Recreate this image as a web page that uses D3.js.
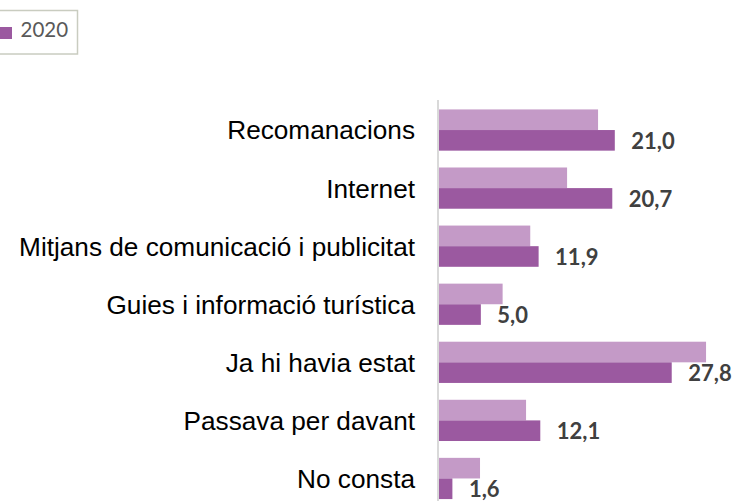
<!DOCTYPE html>
<html>
<head>
<meta charset="utf-8">
<script src="https://cdn.jsdelivr.net/npm/d3@7"></script>
<style>
  body { margin: 0; background: #fff; }
  svg { display: block; }
</style>
</head>
<body>
<svg id="chart" width="734" height="501"></svg>
<script>

const categories = ['Recomanacions', 'Internet', 'Mitjans de comunicació i publicitat',
  'Guies i informació turística', 'Ja hi havia estat', 'Passava per davant', 'No consta']
const series = ['anterior', '2020']
const valuesAnterior = [19.0, 15.3, 10.9, 7.6, 31.9, 10.4, 4.9]
const values2020 = [21.0, 20.7, 11.9, 5.0, 27.8, 12.1, 1.6]
const legendLabels = ['2020']

const colors = { anterior: '#c49ac7', '2020': '#9b59a0' }

const rows = categories.map((c, i) => ({ cat: c, anterior: valuesAnterior[i], '2020': values2020[i] }))

const svg = d3.select('#chart')

const x = d3.scaleLinear().domain([0, 35]).range([439, 732])

const y = d3.scaleBand()
  .domain(categories)
  .range([101, 507.5])
  .paddingInner(0.29)
  .paddingOuter(0.145)

const ySub = d3.scaleBand()
  .domain(series)
  .range([0, y.bandwidth()])

// axis with category labels
const axis = svg.append('g')
  .attr('transform', 'translate(438,0)')
  .call(d3.axisLeft(y).tickSize(0).tickSizeOuter(0).tickPadding(23))

axis.select('.domain')
  .attr('stroke', '#d9d9d9')
  .attr('stroke-width', 2)
  .attr('d', 'M0,100V501')

axis.selectAll('text')
  .attr('fill', '#000')
  .attr('dy', '0.36em')
  .style('font-family', '"Liberation Sans", Arial, sans-serif')
  .style('font-size', '26.2px')

let groups = svg.selectAll('g.row')
  .data(rows)
  .enter()
  .append('g')
  .attr('class', 'row')
  .attr('transform', d => `translate(0,${y(d.cat)})`)

groups.selectAll('rect')
  .data(d => series.map(s => ({ s: s, v: d[s] })))
  .enter()
  .append('rect')
  .attr('x', x(0))
  .attr('y', d => ySub(d.s))
  .attr('width', d => x(d.v) - x(0))
  .attr('height', ySub.bandwidth())
  .attr('fill', d => colors[d.s])

groups.append('text')
  .attr('x', d => x(d['2020']) + 16.5)
  .attr('y', ySub('2020') + ySub.bandwidth() / 2 + 0.5)
  .attr('dy', '0.36em')
  .attr('fill', '#404040')
  .style('font-family', 'Lato, "Open Sans", sans-serif')
  .style('font-weight', 'bold')
  .style('font-size', '22px')
  .text(d => d3.format('.1f')(d['2020']).replace('.', ','))

// legend (cut at the left edge as in the original)
const legend = svg.append('g')

legend.append('rect')
  .attr('x', -10)
  .attr('y', 10.5)
  .attr('width', 87.5)
  .attr('height', 43.5)
  .attr('fill', '#fff')
  .attr('stroke', '#c9ccc0')
  .attr('stroke-width', 1.5)

legend.selectAll('g.item')
  .data(legendLabels)
  .enter()
  .append('g')
  .attr('class', 'item')
  .each(function (d) {
    const g = d3.select(this)
    g.append('rect')
      .attr('x', 0)
      .attr('y', 27)
      .attr('width', 12)
      .attr('height', 12)
      .attr('fill', colors[d])
    g.append('text')
      .attr('x', 20.5)
      .attr('y', 37)
      .attr('fill', '#595959')
      .style('font-family', 'Lato, "Open Sans", sans-serif')
      .style('font-size', '20.5px')
      .text(d)
  })

</script>
</body>
</html>
